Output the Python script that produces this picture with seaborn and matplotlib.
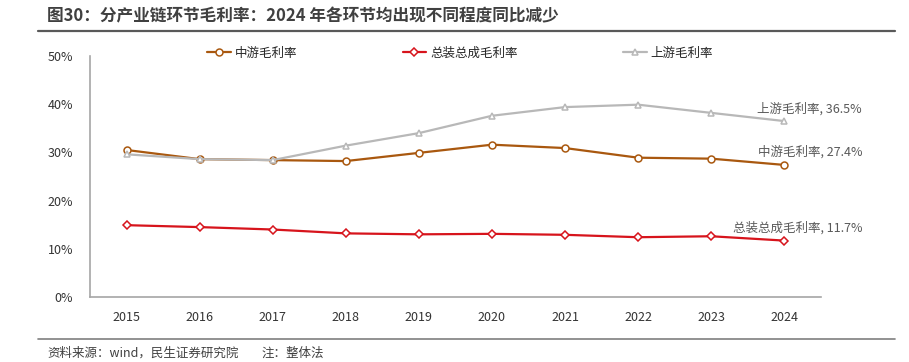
import numpy as np
import pandas as pd
import matplotlib
matplotlib.use("Agg")
import matplotlib.pyplot as plt
import seaborn as sns

# data (gross margin, %)
years = [2015, 2016, 2017, 2018, 2019, 2020, 2021, 2022, 2023, 2024]
midstream = [30.5, 28.6, 28.4, 28.2, 29.9, 31.6, 30.9, 28.9, 28.7, 27.4]
assembly = [14.9, 14.5, 14.0, 13.2, 13.0, 13.1, 12.9, 12.4, 12.6, 11.7]
upstream = [29.6, 28.6, 28.4, 31.4, 34.0, 37.6, 39.4, 39.9, 38.2, 36.5]

names = ["中游毛利率", "总装总成毛利率", "上游毛利率"]
series = [midstream, assembly, upstream]
colors = ["#A9580F", "#D7141C", "#B8B8B8"]
markers = ["o", "D", "^"]
msizes = [5, 4.3, 4.3]
ytick_vals = [0, 10, 20, 30, 40, 50]

sns.set_theme(style="white")
plt.rcParams["font.family"] = ["Noto Sans CJK SC", "DejaVu Sans"]
plt.rcParams["axes.unicode_minus"] = False

fig = plt.figure(figsize=(9.09, 3.62), dpi=100)
ax = fig.add_axes([0.099, 0.1796, 0.804, 0.6657])

for name, vals, c, m, ms in zip(names, series, colors, markers, msizes):
    df = pd.DataFrame({"year": years, "val": vals})
    sns.lineplot(data=df, x="year", y="val", ax=ax, color=c, linewidth=1.6,
                 marker=m, markersize=ms, markerfacecolor="white",
                 markeredgecolor=c, markeredgewidth=1.1, label=name)
    ax.annotate(f"{name}, {vals[-1]:.1f}%", xy=(years[-1], vals[-1]),
                xytext=(56, 9), textcoords="offset points", ha="right",
                va="center", fontsize=9, color="#595959", annotation_clip=False)

ax.set_xlim(2014.5, 2024.5)
ax.set_ylim(0, 50)
ax.set_xticks(years)
ax.set_xticklabels([str(y) for y in years], fontsize=9, color="#333333")
ax.set_yticks(ytick_vals)
ax.set_yticklabels([f"{v}%" for v in ytick_vals], fontsize=9, color="#333333")
ax.tick_params(axis="both", length=0)
ax.tick_params(axis="x", pad=10)
ax.tick_params(axis="y", pad=12)
ax.set_xlabel("")
ax.set_ylabel("")
ax.grid(False)
for s in ["top", "right"]:
    ax.spines[s].set_visible(False)
for s in ["left", "bottom"]:
    ax.spines[s].set_color("#A6A6A6")
    ax.spines[s].set_linewidth(1.2)

handles, labels = ax.get_legend_handles_labels()
ax.legend_.remove()
fig.legend(handles, labels, loc="center", bbox_to_anchor=(460 / 909, 1 - 53 / 362),
           ncol=3, frameon=False, fontsize=9, columnspacing=8.45,
           handlelength=1.9, handletextpad=0.3)

# title and rules
fig.text(47 / 909, 1 - 16 / 362,
         "图30：分产业链环节毛利率：2024 年各环节均出现不同程度同比减少",
         fontsize=12, fontweight="bold", color="#404040", ha="left", va="center")
fig.add_artist(plt.Line2D([38 / 909, 895 / 909], [1 - 31 / 362, 1 - 31 / 362],
                          color="#595959", linewidth=1.6))
fig.add_artist(plt.Line2D([38 / 909, 895 / 909], [1 - 339 / 362, 1 - 339 / 362],
                          color="#7F7F7F", linewidth=1.2))
fig.text(47 / 909, 1 - 353 / 362, "资料来源：wind，民生证券研究院",
         fontsize=9, color="#404040", ha="left", va="center")
fig.text(262 / 909, 1 - 353 / 362, "注：整体法",
         fontsize=9, color="#404040", ha="left", va="center")

fig.savefig("out.png", dpi=100)
